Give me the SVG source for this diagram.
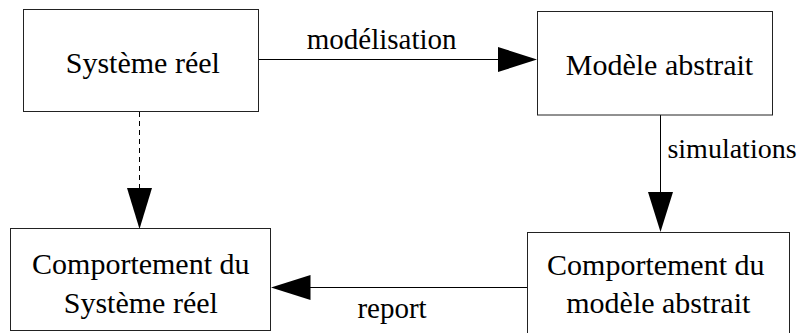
<svg xmlns="http://www.w3.org/2000/svg" width="800" height="333" viewBox="0 0 800 333">
<style>
.box{fill:#fff;stroke:#222;stroke-width:1}
.c{stroke:#000;stroke-width:1;fill:none}
.d{stroke-dasharray:5,4}
.h{fill:#000;stroke:none}
</style>
<rect width="800" height="333" fill="#fff"/>
<g id="connectors">
<line class="c" x1="258" y1="59.5" x2="499" y2="59.5"/>
<polygon class="h" points="498,47 537,59.5 498,72"/>
<line class="c" x1="660.5" y1="115" x2="660.5" y2="193"/>
<polygon class="h" points="648,192 673,192 660.5,232"/>
<line class="c d" x1="139.5" y1="112" x2="139.5" y2="189"/>
<polygon class="h" points="127,188 152,188 139.5,229"/>
<line class="c" x1="527" y1="287.5" x2="309" y2="287.5"/>
<polygon class="h" points="310.5,275 310.5,300 271,287.5"/>
<text x="381.7" y="49" font-size="29" font-family="Liberation Serif" text-anchor="middle">modélisation</text>
<text x="732" y="158" font-size="28" font-family="Liberation Serif" text-anchor="middle">simulations</text>
<text x="392" y="318" font-size="29" font-family="Liberation Serif" text-anchor="middle">report</text>
</g>
<g id="systeme-reel">
<rect class="box" x="23.5" y="9.5" width="235" height="102"/>
<text x="142.8" y="73" font-size="30" font-family="Liberation Serif" text-anchor="middle">Système réel</text>
</g>
<g id="modele-abstrait">
<rect class="box" x="537.5" y="11.5" width="235" height="103.5"/>
<text x="659.5" y="75" font-size="30" font-family="Liberation Serif" text-anchor="middle">Modèle abstrait</text>
</g>
<g id="comportement-modele">
<rect class="box" x="527.5" y="232.5" width="262" height="104"/>
<text x="655.8" y="275" font-size="30" font-family="Liberation Serif" text-anchor="middle">Comportement du</text>
<text x="658.3" y="313" font-size="30" font-family="Liberation Serif" text-anchor="middle">modèle abstrait</text>
</g>
<g id="comportement-systeme">
<rect class="box" x="10.5" y="228.5" width="260" height="102"/>
<text x="140.8" y="273.5" font-size="30" font-family="Liberation Serif" text-anchor="middle">Comportement du</text>
<text x="140.8" y="312.5" font-size="30" font-family="Liberation Serif" text-anchor="middle">Système réel</text>
</g>
</svg>
